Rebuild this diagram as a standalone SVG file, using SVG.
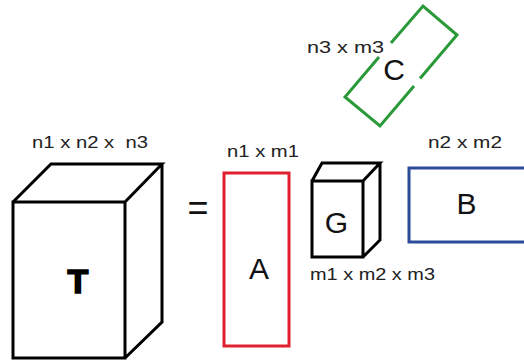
<svg xmlns="http://www.w3.org/2000/svg" width="524" height="364" viewBox="0 0 524 364">
<style>
.lbl{font-family:"Liberation Sans",Arial,sans-serif;font-size:17px;fill:#222}
.big{font-family:"Liberation Sans",Arial,sans-serif;font-size:30px;fill:#111;text-anchor:middle}
.cube{fill:none;stroke:#000;stroke-width:3;stroke-linejoin:miter}
</style>
<rect width="524" height="364" fill="#fff"/>
<g id="T">
<path class="cube" d="M13,202 H125 V358 H13 Z M13,202 L51,164 H162 L125,202 M162,164 V322 L125,358"/>
<text x="78" y="293" style="font-family:'Liberation Sans',Arial,sans-serif;font-size:34px;font-weight:900;fill:#000;stroke:#000;stroke-width:1.6;text-anchor:middle">T</text>
<text class="lbl" x="32" y="148" font-size="18" textLength="116" lengthAdjust="spacingAndGlyphs" xml:space="preserve">n1 x n2 x  n3</text>
</g>
<g id="eq">
<text x="198" y="220" style="font-family:'Liberation Sans',Arial,sans-serif;font-size:36px;fill:#111;text-anchor:middle">=</text>
</g>
<g id="A">
<rect x="224" y="173" width="65" height="173" fill="none" stroke="#e0202f" stroke-width="3"/>
<text class="big" x="259" y="279">A</text>
<text class="lbl" x="227" y="157" textLength="72" lengthAdjust="spacingAndGlyphs">n1 x m1</text>
</g>
<g id="G">
<path class="cube" d="M312,181 H363 V257 H312 Z M312,181 L322,163 H380 L363,181 M380,163 V240 L363,257"/>
<text class="big" x="336.5" y="233" font-size="29">G</text>
<text class="lbl" x="310" y="280" textLength="125" lengthAdjust="spacingAndGlyphs">m1 x m2 x m3</text>
</g>
<g id="C">
<path fill="none" stroke="#2a9a38" stroke-width="3" d="M391,43 L423,6 L457,35 L420,78.5 M414,86 L380,126 L345,97 L379,57"/>
<text class="big" x="394" y="80">C</text>
<text class="lbl" x="307" y="53" textLength="77" lengthAdjust="spacingAndGlyphs">n3 x m3</text>
</g>
<g id="B">
<rect x="409" y="168" width="120" height="74" fill="none" stroke="#2b4b9b" stroke-width="3"/>
<text class="big" x="466.5" y="214">B</text>
<text class="lbl" x="428" y="148" textLength="74" lengthAdjust="spacingAndGlyphs">n2 x m2</text>
</g>
<g id="connectors"/>
</svg>
